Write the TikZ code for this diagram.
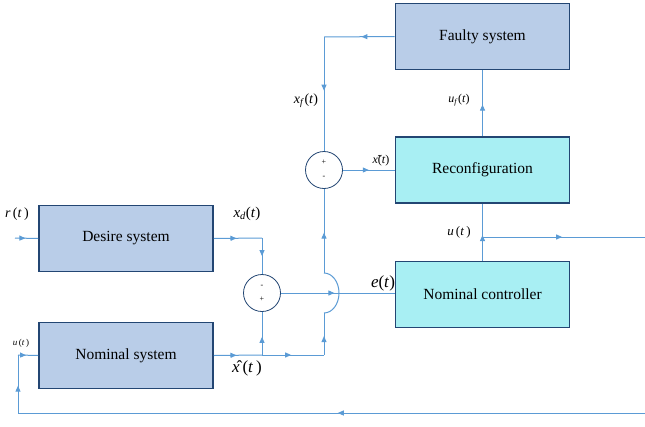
\documentclass[tikz,border=0pt]{standalone}
\usepackage{fontspec}
\setmainfont{Liberation Serif}
\usetikzlibrary{arrows.meta,decorations.markings}
\definecolor{boxblue}{HTML}{B9CDE8}
\definecolor{boxcyan}{HTML}{A8EFF3}
\definecolor{edgeblue}{HTML}{234673}
\definecolor{lineblue}{HTML}{5B9BD5}
\tikzset{
  blk/.style={draw=edgeblue,line width=1.7pt,minimum width=174pt,minimum height=66pt,inner sep=0pt,font=\fontsize{15.5}{18}\selectfont},
  plant/.style={blk,fill=boxblue},
  ctl/.style={blk,fill=boxcyan},
  sumc/.style={circle,draw=edgeblue,line width=0.8pt,fill=white,minimum size=37pt,inner sep=0pt},
  sgn/.style={font=\fontsize{8}{9}\selectfont,inner sep=0pt},
  wire/.style={draw=lineblue,line width=1pt},
  arr/.style={postaction={decorate,decoration={markings,mark=at position #1 with {\arrow{Triangle[width=5pt,length=6pt]}}}}},
  lbl/.style={inner sep=0pt,text=black}
}
\begin{document}
\begin{tikzpicture}[x=1pt,y=-1pt]
\useasboundingbox (0,0) rectangle (645,426);
% blocks
\node[plant] (faulty) at (482.5,36.5) {Faulty system};
\node[ctl] (reconf) at (482.5,170) {Reconfiguration};
\node[ctl] (ctrl) at (482.5,294.5) {Nominal controller};
\node[plant] (desire) at (126,238.5) {Desire system};
\node[plant] (nominal) at (126,355.5) {Nominal system};
% summing junctions
\node[sumc] (s1) at (324,170) {};
\node[sumc] (s2) at (262,293) {};
\node[sgn] (s1p) at (324,162) {+};
\node[sgn] (s1m) at (324,177) {-};
\node[sgn] (s2m) at (262,286) {-};
\node[sgn] (s2p) at (262,299) {+};
% coordinates
\coordinate (rin) at (15,238);
\coordinate (c1) at (262,238);
\coordinate (j1) at (262,355);
\coordinate (j2) at (324,355);
\coordinate (h1) at (324,313);
\coordinate (h2) at (324,273);
\coordinate (c2) at (324,37);
\coordinate (j3) at (482.5,237);
\coordinate (uout) at (645,237);
\coordinate (fin) at (645,413);
\coordinate (f1) at (18,413);
\coordinate (f2) at (18,355);
% wires
\draw[wire,arr=0.45] (rin) -- (desire.west);
\draw[wire,arr=0.47] (desire.east) -- (c1);
\draw[wire,arr=0.5] (c1) -- (s2.north);
\draw[wire,arr=0.47] (nominal.east) -- (j1);
\draw[wire,arr=0.47] (j1) -- (j2);
\draw[wire,arr=0.42] (j1) -- (s2.south);
\draw[wire,arr=0.45] (j2) -- (h1);
\draw[wire] (h1) arc[start angle=90,end angle=-90,x radius=15,y radius=20];
\draw[wire,arr=0.48] (h2) -- (s1.south);
\draw[wire,arr=0.47] (s2.east) -- (s2.east -| ctrl.west);
\draw[wire,arr=0.47] (faulty.west) -- (c2);
\draw[wire,arr=0.47] (c2) -- (s1.north);
\draw[wire,arr=0.5] (s1.east) -- (reconf.west);
\draw[wire,arr=0.48] (reconf.north) -- (faulty.south);
\draw[wire,arr=0.45] (ctrl.north) -- (reconf.south);
\draw[wire,arr=0.49] (j3) -- (uout);
\draw[wire,arr=0.49] (fin) -- (f1);
\draw[wire,arr=0.47] (f1) -- (f2);
\draw[wire,arr=0.4] (f2) -- (nominal.west);
% labels
\node[lbl,font=\fontsize{14}{16}\selectfont] (lr) at (17,214) {\textit{r}\,(\textit{t}\,)};
\node[lbl,font=\fontsize{15}{17}\selectfont] (lxd) at (247,214) {\textit{x}\textsubscript{\textit{d}}(\textit{t})};
\node[lbl,font=\fontsize{17}{19}\selectfont] (lxh) at (247,368) {\^{\textit{x}}\,(\textit{t}\,)};
\node[lbl,font=\fontsize{9}{10}\selectfont] (lu1) at (21,343) {\textit{u}\,(\textit{t}\,)};
\node[lbl,font=\fontsize{17}{19}\selectfont] (le) at (383,283) {\textit{e}(\textit{t})};
\node[lbl,font=\fontsize{14}{16}\selectfont] (lxf) at (306,101) {\textit{x}\textsubscript{\textit{f}}(\textit{t})};
\node[lbl,font=\fontsize{12}{14}\selectfont] (lxt) at (381,161) {\~{\textit{x}}(\textit{t})};
\node[lbl,font=\fontsize{12}{14}\selectfont] (luf) at (459,100) {\textit{u}\textsubscript{\textit{f}}(\textit{t})};
\node[lbl,font=\fontsize{13}{15}\selectfont] (lu2) at (459,232) {\textit{u}\,(\textit{t}\,)};
\end{tikzpicture}
\end{document}
